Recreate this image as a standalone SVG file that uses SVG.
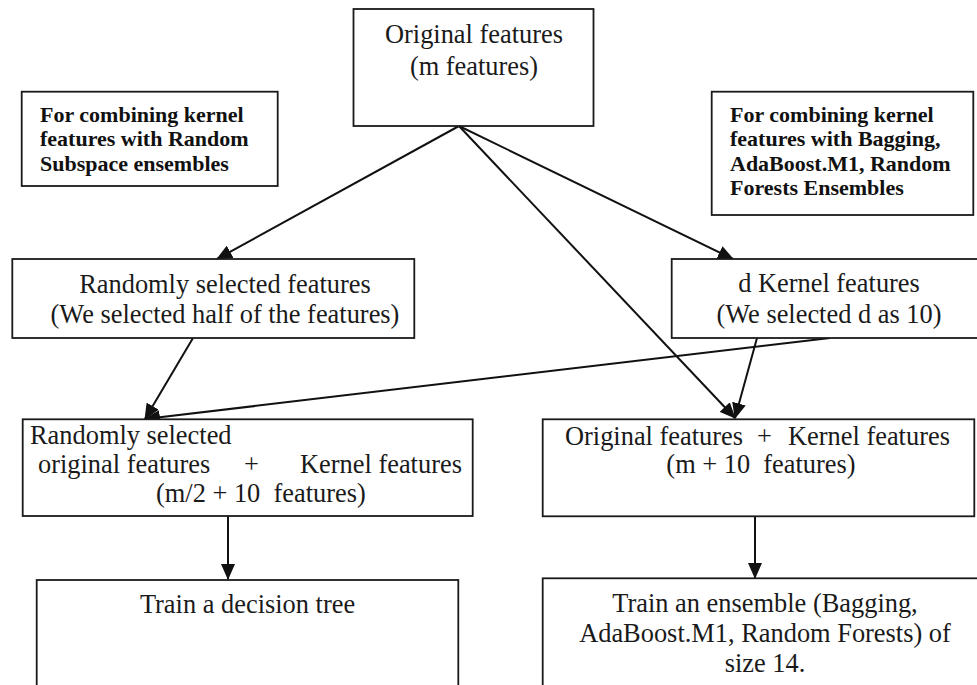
<svg xmlns="http://www.w3.org/2000/svg" width="977" height="685" viewBox="0 0 977 685">
<style>
.box{fill:#fff;stroke:#1a1a1a;stroke-width:1.8}
.t{font-family:"Liberation Serif","Times New Roman",serif;font-size:26.4px;fill:#1a1a1a}
.c{text-anchor:middle}
.b{font-family:"Liberation Serif","Times New Roman",serif;font-size:22px;font-weight:bold;fill:#111}
.ln{stroke:#111;stroke-width:2;fill:none;marker-end:url(#ah)}
</style>
<defs>
<marker id="ah" markerUnits="userSpaceOnUse" markerWidth="16" markerHeight="14" refX="15" refY="7" orient="auto">
<path d="M0,0 L16,7 L0,14 Z" fill="#111"/>
</marker>
</defs>
<rect width="977" height="685" fill="#fff"/>
<g id="connectors">
<line class="ln" x1="459" y1="126" x2="217" y2="259"/>
<line class="ln" x1="459" y1="126" x2="733" y2="259"/>
<line class="ln" x1="459" y1="126" x2="735" y2="418"/>
<line class="ln" x1="193" y1="338" x2="145" y2="419"/>
<line class="ln" x1="830" y1="338" x2="145" y2="419"/>
<line class="ln" x1="757" y1="338" x2="735" y2="418"/>
<line class="ln" x1="228" y1="516" x2="228" y2="579"/>
<line class="ln" x1="755" y1="516" x2="755" y2="578"/>
</g>
<g id="original">
<rect class="box" x="353.5" y="9" width="240" height="117"/>
<text class="t c" x="474" y="43">Original features</text>
<text class="t c" x="474" y="75">(m features)</text>
</g>
<g id="note-left">
<rect class="box" x="21.7" y="91.7" width="256" height="94.3"/>
<text class="b" x="40" y="122">For combining kernel</text>
<text class="b" x="40" y="146">features with Random</text>
<text class="b" x="40" y="170.5">Subspace ensembles</text>
</g>
<g id="note-right">
<rect class="box" x="711.7" y="91.7" width="261.6" height="123.3"/>
<text class="b" x="730" y="121.7">For combining kernel</text>
<text class="b" x="730" y="146.2">features with Bagging,</text>
<text class="b" x="730" y="170.5">AdaBoost.M1, Random</text>
<text class="b" x="730" y="195">Forests Ensembles</text>
</g>
<g id="random">
<rect class="box" x="12.3" y="259" width="402" height="79"/>
<text class="t c" x="225" y="292.7">Randomly selected features</text>
<text class="t c" x="225" y="323.3">(We selected half of the features)</text>
</g>
<g id="kernel">
<rect class="box" x="671.7" y="259" width="320" height="79"/>
<text class="t c" x="829" y="291.7">d Kernel features</text>
<text class="t c" x="829" y="322.7">(We selected d as 10)</text>
</g>
<g id="combined-left">
<rect class="box" x="22.7" y="419.3" width="450" height="96.7"/>
<text class="t" x="30" y="444">Randomly selected</text>
<text class="t" x="38" y="472.7">original features</text>
<text class="t" x="244" y="472.7">+</text>
<text class="t" x="300" y="472.7">Kernel features</text>
<text class="t" x="156" y="501.7" xml:space="preserve">(m/2 + 10  features)</text>
</g>
<g id="combined-right">
<rect class="box" x="542.7" y="419.3" width="431.6" height="97"/>
<text class="t" x="565" y="445">Original features</text>
<text class="t" x="757" y="445">+</text>
<text class="t" x="788" y="445">Kernel features</text>
<text class="t c" x="761" y="472.7" xml:space="preserve">(m + 10  features)</text>
</g>
<g id="train-tree">
<rect class="box" x="36.7" y="580" width="421.6" height="120"/>
<text class="t c" x="247.5" y="612.7">Train a decision tree</text>
</g>
<g id="train-ensemble">
<rect class="box" x="542.7" y="578.3" width="450" height="120"/>
<text class="t c" x="765" y="611.7">Train an ensemble (Bagging,</text>
<text class="t c" x="765" y="641.7">AdaBoost.M1, Random Forests) of</text>
<text class="t c" x="765" y="671.7">size 14.</text>
</g>
</svg>
